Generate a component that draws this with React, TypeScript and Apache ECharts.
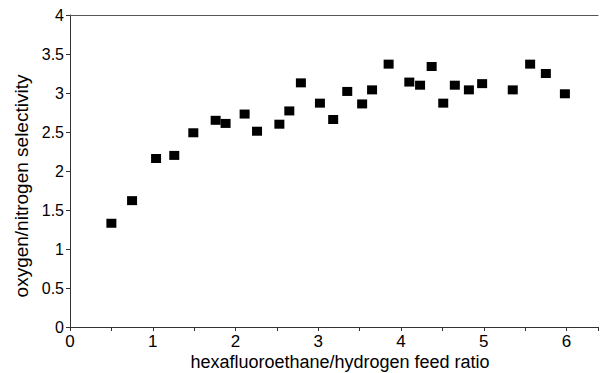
import React, { useEffect, useRef } from "react";
import * as echarts from "echarts";

const feedRatio = [0.5, 0.75, 1.04, 1.26, 1.49, 1.76, 1.88, 2.11, 2.26, 2.53, 2.65, 2.79, 3.02, 3.18, 3.35, 3.53, 3.65, 3.85, 4.1, 4.23, 4.37, 4.51, 4.65, 4.82, 4.98, 5.35, 5.56, 5.75, 5.98];
const selectivity = [1.33, 1.62, 2.16, 2.2, 2.49, 2.65, 2.61, 2.73, 2.51, 2.6, 2.77, 3.13, 2.87, 2.66, 3.02, 2.86, 3.04, 3.37, 3.14, 3.1, 3.34, 2.87, 3.1, 3.04, 3.12, 3.04, 3.37, 3.25, 2.99];

const xTitle = "hexafluoroethane/hydrogen feed ratio";
const yTitle = "oxygen/nitrogen selectivity";

const xMin = 0;
const xMax = 6.38;
const yMin = 0;
const yMax = 4;

export default function App() {
  const ref = useRef<HTMLDivElement>(null);
  useEffect(() => {
    if (!ref.current) return;
    const chart = echarts.init(ref.current, undefined, { renderer: "svg" });
    const font = "'Liberation Sans', Arial, Helvetica, sans-serif";
    const axisColor = "#333";
    chart.setOption({
      animation: false,
      backgroundColor: "#fff",
      grid: { left: 70, right: 3, top: 15, bottom: 46 },
      graphic: [
        {
          type: "text",
          x: 340,
          y: 362,
          style: {
            text: xTitle,
            fontFamily: font,
            fontSize: 18,
            fill: "#000",
            align: "center",
            verticalAlign: "middle",
          },
        },
        {
          type: "text",
          x: 21,
          y: 186,
          rotation: Math.PI / 2,
          style: {
            text: yTitle,
            fontFamily: font,
            fontSize: 19,
            fill: "#000",
            align: "center",
            verticalAlign: "middle",
          },
        },
      ],
      xAxis: [
        {
          type: "value",
          min: xMin,
          max: xMax,
          interval: 1,
          position: "bottom",
          axisLine: { show: true, lineStyle: { color: axisColor, width: 1 } },
          axisTick: { show: true, inside: false, length: 4, lineStyle: { color: axisColor } },
          minorTick: { show: true, splitNumber: 2, length: 4, lineStyle: { color: axisColor } },
          axisLabel: { fontFamily: font, fontSize: 17, color: "#000", margin: 6, showMaxLabel: false },
          splitLine: { show: false },
        },
        {
          type: "value",
          min: xMin,
          max: xMax,
          position: "top",
          axisLine: { show: true, onZero: false, lineStyle: { color: "#555", width: 1 } },
          axisTick: { show: false },
          axisLabel: { show: false },
          splitLine: { show: false },
        },
      ],
      yAxis: {
        type: "value",
        min: yMin,
        max: yMax,
        interval: 0.5,
        axisLine: { show: true, lineStyle: { color: axisColor, width: 1 } },
        axisTick: { show: true, inside: false, length: 4, lineStyle: { color: axisColor } },
        axisLabel: { fontFamily: font, fontSize: 16, color: "#000", margin: 6 },
        splitLine: { show: false },
      },
      series: [
        {
          type: "scatter",
          xAxisIndex: 0,
          data: feedRatio.map((x, i) => [x, selectivity[i]]),
          symbol: "rect",
          symbolSize: [10, 9],
          itemStyle: { color: "#000", opacity: 1 },
        },
      ],
    });
    return () => chart.dispose();
  }, []);
  return <div ref={ref} style={{ width: 601, height: 373, position: "absolute", left: 0, top: 0 }} />;
}
